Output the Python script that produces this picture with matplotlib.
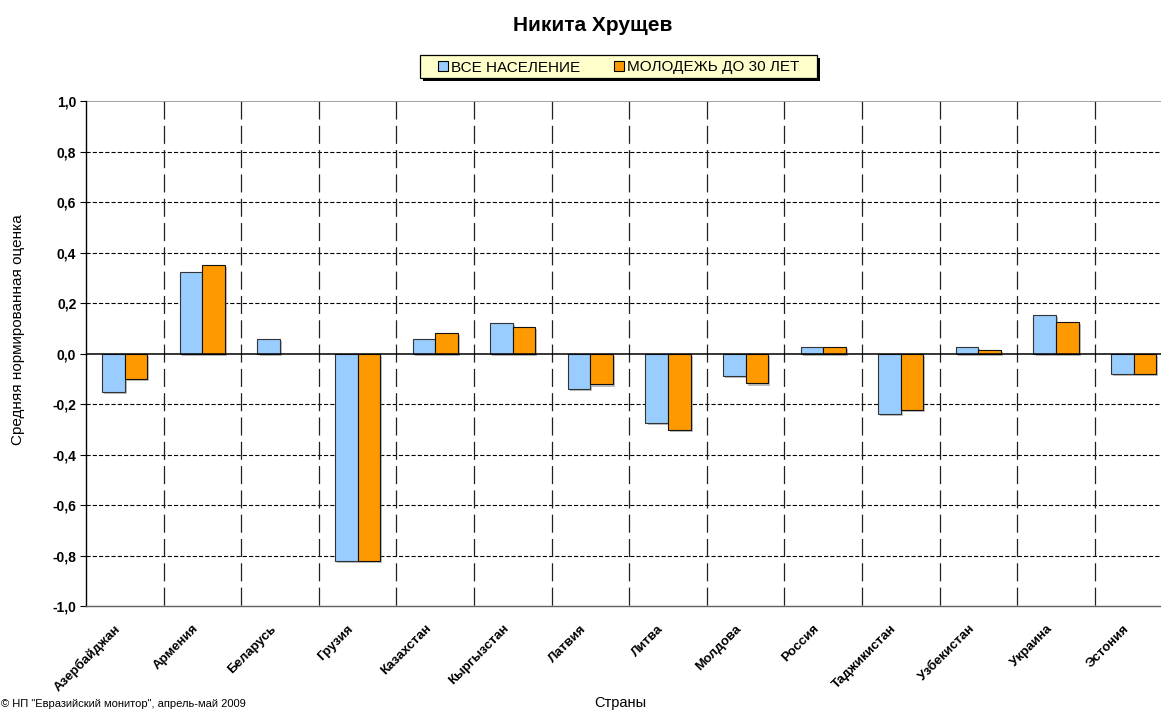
import numpy as np
import matplotlib
matplotlib.use('Agg')
import matplotlib.pyplot as plt
from matplotlib.patches import Rectangle
import matplotlib.patheffects as pe
import matplotlib.transforms as mtransforms

plt.rcParams['font.family'] = ['Liberation Sans', 'DejaVu Sans']
plt.rcParams['lines.scale_dashes'] = False

# data
countries = ['Азербайджан', 'Армения', 'Беларусь', 'Грузия', 'Казахстан', 'Кыргызстан',
             'Латвия', 'Литва', 'Молдова', 'Россия', 'Таджикистан', 'Узбекистан',
             'Украина', 'Эстония']
all_pop = [-0.150, 0.324, 0.059, -0.820, 0.059, 0.122, -0.140, -0.276, -0.090,
           0.026, -0.238, 0.026, 0.154, -0.082]
youth = [-0.101, 0.350, np.nan, -0.820, 0.082, 0.106, -0.122, -0.303, -0.118,
         0.026, -0.224, 0.016, 0.125, -0.082]
yticks = [-1.0, -0.8, -0.6, -0.4, -0.2, 0.0, 0.2, 0.4, 0.6, 0.8, 1.0]

blue = '#99CCFF'
orange = '#FF9900'

W, H = 1161, 711
fig = plt.figure(figsize=(W / 100, H / 100), dpi=100)
left, top, bottom = 86, 101.3, 606
cat_w = 77.6
ax = fig.add_axes([left / W, 1 - bottom / H, len(countries) * cat_w / W, (bottom - top) / H])

n = len(countries)
centers = np.arange(n) + 0.5
bw = 0.29

# grid lines
for y in yticks:
    if y in (-1.0, 0.0, 1.0):
        continue
    ax.axhline(y, color='black', lw=0.8, dashes=(3, 1.5), zorder=1)
for b in range(1, n + 1):
    ax.plot([b, b], [1.0, -1.0], color='#202020', lw=0.9, dashes=(13, 4.5), zorder=1)
ax.axhline(1.0, color='#909090', lw=1.2, zorder=1)

shadow = [pe.SimplePatchShadow(offset=(1.5, -1.5), shadow_rgbFace='#808080', alpha=0.5), pe.Normal()]
ax.bar(centers - bw / 2, all_pop, bw, color=blue, edgecolor='#333333', lw=0.8, zorder=3,
       path_effects=shadow)
ax.bar(centers + bw / 2, youth, bw, color=orange, edgecolor='#111111', lw=0.8, zorder=3,
       path_effects=shadow)
ax.axhline(0, color='black', lw=1.1, zorder=4)

ax.set_xlim(0, n)
ax.set_ylim(-1.0, 1.0)
ax.set_yticks(yticks)
ax.set_yticklabels([f'{v:.1f}'.replace('.', ',') for v in yticks], fontsize=10, fontweight='bold')
ax.tick_params(axis='y', length=4, width=0.8, pad=3)
ax.set_xticks(centers)
ax.set_xticklabels(countries, rotation=45, ha='right', va='center', rotation_mode='anchor',
                   fontsize=9.5, fontweight='bold')
ax.tick_params(axis='x', length=0, pad=15)
shift = mtransforms.ScaledTranslation(-6 / 100, 0, fig.dpi_scale_trans)
for lab in ax.get_xticklabels():
    lab.set_transform(lab.get_transform() + shift)

for s in ['top', 'right']:
    ax.spines[s].set_visible(False)
ax.spines['left'].set_linewidth(1.0)
ax.spines['bottom'].set_linewidth(1.0)
ax.spines['bottom'].set_color('#606060')

fig.text(593 / W, 1 - 31 / H, 'Никита Хрущев', ha='center', va='baseline', fontsize=15,
         fontweight='bold')
fig.text(18 / W, 1 - 330 / H, 'Средняя нормированная оценка', rotation=90, ha='center',
         va='center', fontsize=11)
fig.text(620 / W, 1 - 703 / H, 'Страны', ha='center', va='center', fontsize=10.5)
fig.text(1 / W, 1 - 704 / H, '© НП "Евразийский монитор", апрель-май 2009', ha='left',
         va='center', fontsize=8)

# legend box drawn in figure pixels, with a hard shadow
bx0, bx1, by0, by1 = 420, 817, 55, 78
fig.patches.append(Rectangle(((bx0 + 3) / W, 1 - (by1 + 3) / H), (bx1 - bx0) / W,
                             (by1 - by0) / H, transform=fig.transFigure,
                             facecolor='black', edgecolor='none', zorder=0))
fig.patches.append(Rectangle((bx0 / W, 1 - by1 / H), (bx1 - bx0) / W, (by1 - by0) / H,
                             transform=fig.transFigure, facecolor='#FFFFCC',
                             edgecolor='black', lw=0.9, zorder=1))

handles = [Rectangle((0, 0), 1, 1, facecolor=blue, edgecolor='black', lw=0.8),
           Rectangle((0, 0), 1, 1, facecolor=orange, edgecolor='black', lw=0.8)]
leg = fig.legend(handles, ['ВСЕ НАСЕЛЕНИЕ', 'МОЛОДЕЖЬ ДО 30 ЛЕТ'], loc='center',
                 bbox_to_anchor=((bx0 + bx1) / 2 / W, 1 - ((by0 + by1) / 2 + 1) / H), ncol=2,
                 fontsize=11, frameon=False, handlelength=0.65, handleheight=0.65,
                 handletextpad=0.2, columnspacing=2.2, borderpad=0)

fig.savefig('out.png', dpi=100)
